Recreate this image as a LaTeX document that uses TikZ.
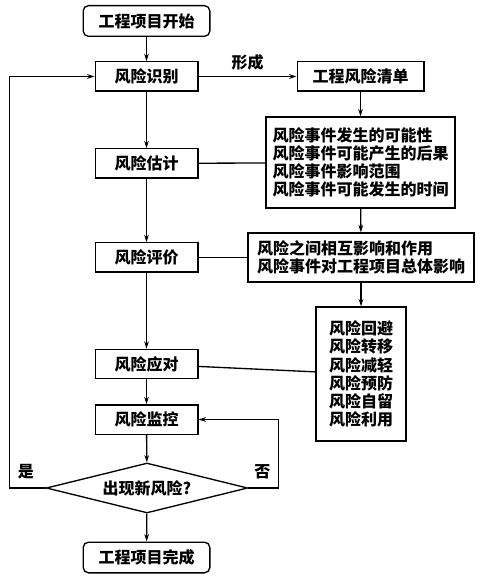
\documentclass[tikz,border=0pt]{standalone}
\usepackage{fontspec}
\setmainfont{Noto Sans CJK SC}
\usetikzlibrary{shapes.geometric,arrows.meta}

\tikzset{
  fase/.style={draw, line width=1pt, minimum width=77pt, minimum height=22pt, inner sep=0pt},
  terminale/.style={fase, rounded corners=4pt, minimum width=95pt, minimum height=23pt},
  elenco/.style={draw, line width=1pt, align=left, inner sep=0pt},
  scelta/.style={draw, line width=1pt, diamond, aspect=4, inner sep=0pt, minimum width=151pt, minimum height=37.5pt},
  freccia/.style={line width=1pt, -{Stealth[length=5.5pt,width=3.5pt]}},
  linea/.style={line width=1pt}
}

\begin{document}
\begin{tikzpicture}[x=0.75pt, y=-0.75pt, font=\fontsize{12}{14}\selectfont\bfseries]
        % cornice = dimensioni del disegno (in pixel)
        \useasboundingbox (0,0) rectangle (481,580);

        % colonna sinistra: le fasi
        \node[terminale] (inizio) at (146.5,21) {工程项目开始};
        \node[fase] (identificazione) at (146.5,76.5) {风险识别};
        \node[fase] (stima) at (146.5,163.5) {风险估计};
        \node[fase] (valutazione) at (146.5,257.5) {风险评价};
        \node[fase] (risposta) at (146.5,364) {风险应对};
        \node[fase] (monitoraggio) at (146.5,419.5) {风险监控};
        \node[scelta] (decisione) at (147,488) {出现新风险?};
        \node[terminale] (fine) at (146.5,557.5) {工程项目完成};

        % colonna destra: i risultati
        \node[fase, minimum width=95pt] (lista) at (360.5,76.5) {工程风险清单};
        \node[elenco, minimum width=141.75pt, minimum height=68.25pt, font=\fontsize{12}{13.65}\selectfont\bfseries] (fattori) at (360.5,162.5)
          {风险事件发生的可能性\\风险事件可能产生的后果\\风险事件影响范围\\风险事件可能发生的时间};
        \node[elenco, minimum width=169.5pt, minimum height=36.75pt] (impatti) at (361,257.5)
          {风险之间相互影响和作用\\风险事件对工程项目总体影响};
        \node[elenco, minimum width=67.5pt, minimum height=100.5pt, font=\fontsize{12}{13.65}\selectfont\bfseries] (strategie) at (361,374)
          {风险回避\\风险转移\\风险减轻\\风险预防\\风险自留\\风险利用};

        % frecce principali
        \draw[freccia] (inizio) -- (identificazione);
        \draw[freccia] (identificazione) -- (stima);
        \draw[freccia] (stima) -- (valutazione);
        \draw[freccia] (valutazione) -- (risposta);
        \draw[freccia] (risposta) -- (monitoraggio);
        \draw[freccia] (monitoraggio) -- (decisione);
        \draw[freccia] (decisione) -- (fine);

        \draw[freccia] (identificazione) -- node[above=1pt] {形成} (lista);
        \draw[freccia] (lista) -- (fattori);
        \draw[freccia] (fattori) -- (impatti);
        \draw[freccia] (impatti) -- (strategie);

        % collegamenti senza freccia
        \draw[linea] (stima) -- (fattori);
        \draw[linea] (valutazione) -- (impatti);
        \draw[linea] (risposta) -- (strategie);

        % ritorni: si / no
        \draw[freccia] (decisione.west) -- node[above=3pt, pos=0.55] {是} ++(-36,0) |- (identificazione.west);
        \draw[freccia] (decisione.east) -- node[above=3pt, pos=0.47] {否} ++(30,0) |- (monitoraggio.east);
\end{tikzpicture}
\end{document}
